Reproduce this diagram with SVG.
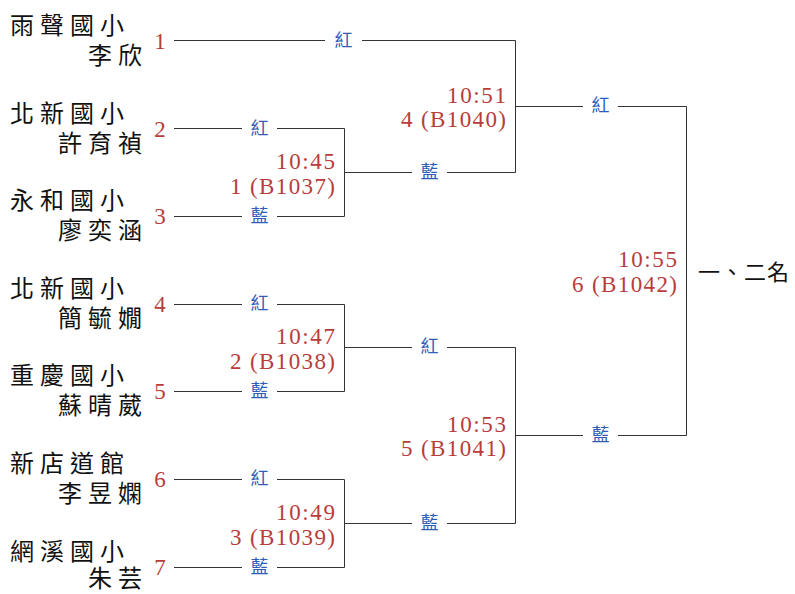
<svg xmlns="http://www.w3.org/2000/svg" width="795" height="594" viewBox="0 0 795 594">
<style>
.nm{font-family:"Noto Sans CJK TC","Noto Sans CJK SC",sans-serif;font-size:24px;letter-spacing:6px;fill:#111}
.sd{font-family:"Liberation Serif",serif;font-size:23px;fill:#b83c3c;text-anchor:middle}
.tm{font-family:"Liberation Serif",serif;font-size:23px;fill:#b83c3c;text-anchor:end}
.lb{font-family:"Noto Sans CJK TC","Noto Sans CJK SC",sans-serif;font-size:18px;fill:#2f5db8;text-anchor:middle}
.bg{fill:#fff}
.ln{stroke:#333;stroke-width:1;fill:none}
.fn{font-family:"Noto Sans CJK TC","Noto Sans CJK SC",sans-serif;font-size:22px;letter-spacing:1px;fill:#111}
</style>
<rect width="795" height="594" fill="#fff"/>
<g id="connectors" class="ln">
<path d="M174 40.5H515.5V172.5H344"/>
<path d="M174 128.5H344.5V216.5H174M344.5 172.5H515"/>
<path d="M515.5 106.5H686.5V435.5H515"/>
<path d="M174 304.5H344.5V391.5H174M344.5 347.5H515.5V523.5H344.5"/>
<path d="M174 479.5H344.5V567.5H174M344.5 523.5H515M515.5 435.5H686"/>
</g>
<g id="labels">
<g><rect class="bg" x="325" y="31" width="37" height="20"/><text class="lb" x="343.5" y="47">紅</text></g>
<g><rect class="bg" x="242" y="119" width="35" height="20"/><text class="lb" x="259.5" y="135">紅</text></g>
<g><rect class="bg" x="242" y="206" width="35" height="20"/><text class="lb" x="259.5" y="222">藍</text></g>
<g><rect class="bg" x="242" y="294" width="35" height="20"/><text class="lb" x="259.5" y="310">紅</text></g>
<g><rect class="bg" x="242" y="381" width="35" height="20"/><text class="lb" x="259.5" y="397">藍</text></g>
<g><rect class="bg" x="242" y="469" width="35" height="20"/><text class="lb" x="259.5" y="485">紅</text></g>
<g><rect class="bg" x="242" y="557" width="35" height="20"/><text class="lb" x="259.5" y="573">藍</text></g>
<g><rect class="bg" x="412" y="162" width="35" height="20"/><text class="lb" x="429.5" y="178">藍</text></g>
<g><rect class="bg" x="412" y="337" width="35" height="20"/><text class="lb" x="429.5" y="353">紅</text></g>
<g><rect class="bg" x="412" y="513" width="35" height="20"/><text class="lb" x="429.5" y="529">藍</text></g>
<g><rect class="bg" x="583" y="96" width="35" height="20"/><text class="lb" x="600.5" y="112">紅</text></g>
<g><rect class="bg" x="583" y="425" width="35" height="20"/><text class="lb" x="600.5" y="441">藍</text></g>
</g>
<g id="p1"><text class="nm"><tspan x="10" y="34">雨聲國小</tspan><tspan x="88" y="63.5">李欣</tspan></text><text class="sd" x="160" y="49">1</text></g>
<g id="p2"><text class="nm"><tspan x="10" y="122">北新國小</tspan><tspan x="58" y="151.5">許育禎</tspan></text><text class="sd" x="160" y="137">2</text></g>
<g id="p3"><text class="nm"><tspan x="10" y="209">永和國小</tspan><tspan x="58" y="238.5">廖奕涵</tspan></text><text class="sd" x="160" y="224">3</text></g>
<g id="p4"><text class="nm"><tspan x="10" y="297">北新國小</tspan><tspan x="58" y="326.5">簡毓嫺</tspan></text><text class="sd" x="160" y="312">4</text></g>
<g id="p5"><text class="nm"><tspan x="10" y="384">重慶國小</tspan><tspan x="58" y="413.5">蘇晴葳</tspan></text><text class="sd" x="160" y="399">5</text></g>
<g id="p6"><text class="nm"><tspan x="10" y="472">新店道館</tspan><tspan x="58" y="501.5">李昱嫻</tspan></text><text class="sd" x="160" y="487">6</text></g>
<g id="p7"><text class="nm"><tspan x="10" y="560">網溪國小</tspan><tspan x="88" y="587">朱芸</tspan></text><text class="sd" x="160" y="575">7</text></g>
<g id="m1"><text class="tm" x="335" y="169" textLength="59">10:45</text><text class="tm" x="335" y="194" textLength="105">1 (B1037)</text></g>
<g id="m2"><text class="tm" x="335" y="344" textLength="59">10:47</text><text class="tm" x="335" y="369" textLength="105">2 (B1038)</text></g>
<g id="m3"><text class="tm" x="335" y="520" textLength="59">10:49</text><text class="tm" x="335" y="545" textLength="105">3 (B1039)</text></g>
<g id="m4"><text class="tm" x="506" y="103" textLength="59">10:51</text><text class="tm" x="506" y="127" textLength="105">4 (B1040)</text></g>
<g id="m5"><text class="tm" x="506" y="432" textLength="59">10:53</text><text class="tm" x="506" y="456" textLength="105">5 (B1041)</text></g>
<g id="m6"><text class="tm" x="677" y="267" textLength="59">10:55</text><text class="tm" x="677" y="292" textLength="105">6 (B1042)</text></g>
<g id="final"><text class="fn" x="698" y="280">一、二名</text></g>
</svg>
